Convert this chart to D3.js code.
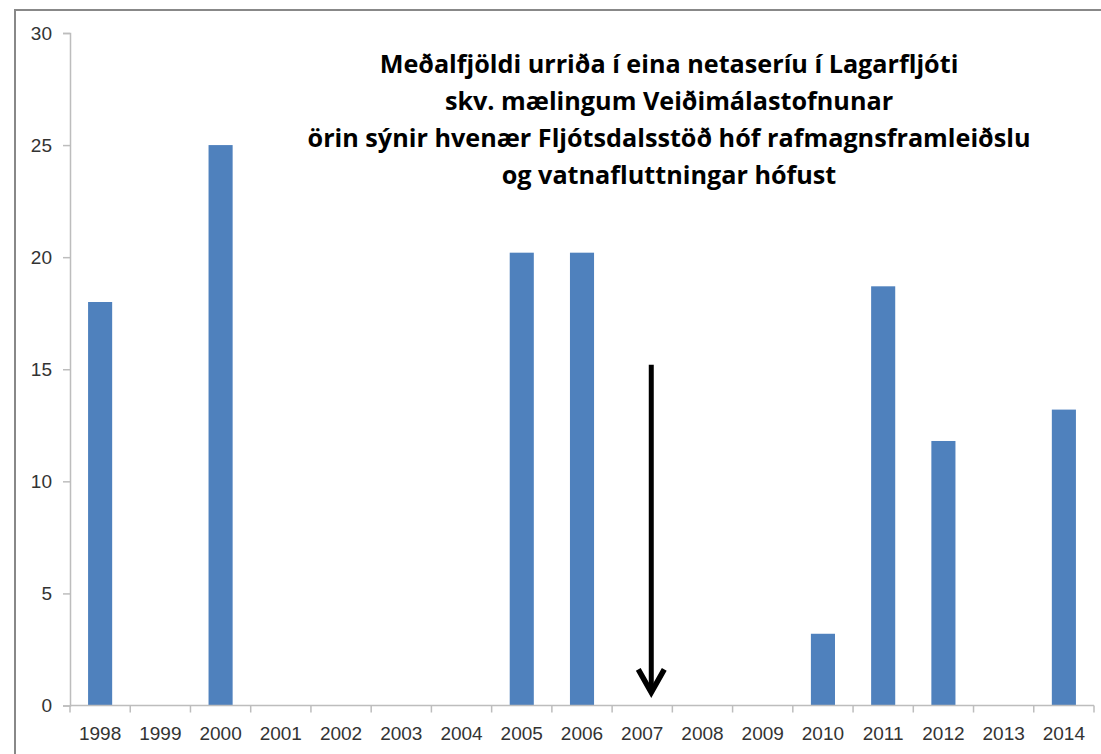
<!DOCTYPE html>
<html>
<head>
<meta charset="utf-8">
<script src="https://cdn.jsdelivr.net/npm/d3@7"></script>
<style>
  html, body { margin: 0; padding: 0; background: #fff; }
  svg { display: block; }
</style>
</head>
<body>
<svg id="chart" width="1101" height="754"></svg>
<script>
const years = ["1998","1999","2000","2001","2002","2003","2004","2005","2006","2007","2008","2009","2010","2011","2012","2013","2014"];
const values = [18.0, 0, 25.0, 0, 0, 0, 0, 20.2, 20.2, 0, 0, 0, 3.2, 18.7, 11.8, 0, 13.2];
const yTicks = [0, 5, 10, 15, 20, 25, 30];
const titleLines = [
  "Meðalfjöldi urriða í eina netaseríu í Lagarfljóti",
  "skv. mælingum Veiðimálastofnunar",
  "örin sýnir hvenær Fljótsdalsstöð hóf rafmagnsframleiðslu",
  "og vatnafluttningar hófust"
];
const arrowYear = "2007";
const arrowFrom = 15.2;
const arrowTo = 0.45;

const svg = d3.select("#chart");
const W = 1101, H = 754;
const m = { left: 70, right: 7, top: 33, bottom: 48.5 };

// outer frame
svg.append("rect")
  .attr("x", 15).attr("y", 10)
  .attr("width", W + 20).attr("height", H + 20)
  .attr("fill", "none").attr("stroke", "#888").attr("stroke-width", 2);

const x = d3.scaleBand().domain(years).range([m.left, W - m.right])
  .paddingInner(0.6).paddingOuter(0.3);
const xb = d3.scaleBand().domain(years).range([m.left, W - m.right]);
const y = d3.scaleLinear().domain([0, 30]).range([H - m.bottom, m.top]);

// bars
svg.append("g").selectAll("rect")
  .data(years.map((d, i) => ({ year: d, v: values[i] })).filter(d => d.v > 0))
  .join("rect")
  .attr("x", d => x(d.year))
  .attr("y", d => y(d.v))
  .attr("width", x.bandwidth())
  .attr("height", d => y(0) - y(d.v))
  .attr("fill", "#4F81BD");

// y axis
const yAxis = svg.append("g")
  .attr("transform", `translate(${m.left},0)`)
  .call(d3.axisLeft(y).tickValues(yTicks).tickSize(7).tickPadding(11));
yAxis.select(".domain").attr("stroke", "#bdbdbd").attr("stroke-width", 1.5);
yAxis.selectAll(".tick line").attr("stroke", "#bdbdbd").attr("stroke-width", 1.5);
yAxis.selectAll("text")
  .attr("font-family", "Liberation Sans, Arial, sans-serif")
  .attr("font-size", 19).attr("fill", "#333");

// x axis (ticks between categories)
const xAxisG = svg.append("g").attr("transform", `translate(0,${y(0)})`);
xAxisG.append("line")
  .attr("x1", m.left).attr("x2", W - m.right)
  .attr("stroke", "#bdbdbd").attr("stroke-width", 1.5);
const boundaries = years.map(d => xb(d)).concat([xb(years[years.length - 1]) + xb.bandwidth()]);
xAxisG.selectAll("line.tk").data(boundaries).join("line").attr("class", "tk")
  .attr("x1", d => d).attr("x2", d => d).attr("y1", 0).attr("y2", 7)
  .attr("stroke", "#bdbdbd").attr("stroke-width", 1.5);
xAxisG.selectAll("text").data(years).join("text")
  .attr("x", d => xb(d) + xb.bandwidth() / 2)
  .attr("y", 34)
  .attr("text-anchor", "middle")
  .attr("font-family", "Liberation Sans, Arial, sans-serif")
  .attr("font-size", 19).attr("fill", "#333")
  .text(d => d);

// arrow
const ax = xb(arrowYear) + xb.bandwidth() * 0.65;
const y1 = y(arrowFrom), y2 = y(arrowTo);
svg.append("line")
  .attr("x1", ax).attr("x2", ax).attr("y1", y1).attr("y2", y2 - 4)
  .attr("stroke", "#000").attr("stroke-width", 5);
svg.append("path")
  .attr("d", `M${ax - 13},${y2 - 26} L${ax},${y2 - 3} L${ax + 13},${y2 - 26}`)
  .attr("fill", "none").attr("stroke", "#000").attr("stroke-width", 5.5)
  .attr("stroke-linejoin", "miter").attr("stroke-linecap", "butt");

// title
const titleG = svg.append("g");
const tt = titleG.selectAll("text").data(titleLines).join("text")
  .attr("x", 669)
  .attr("y", (d, i) => 73 + i * 37)
  .attr("text-anchor", "middle")
  .attr("font-family", "Open Sans, sans-serif")
  .attr("font-weight", "bold")
  .attr("font-size", 20)
  .attr("fill", "#000")
  .text(d => d);
// fit the widest line to the reference width
const widest = d3.max(tt.nodes(), n => n.getComputedTextLength());
const fs = 20 * 723 / widest;
tt.attr("font-size", fs);
</script>
</body>
</html>
